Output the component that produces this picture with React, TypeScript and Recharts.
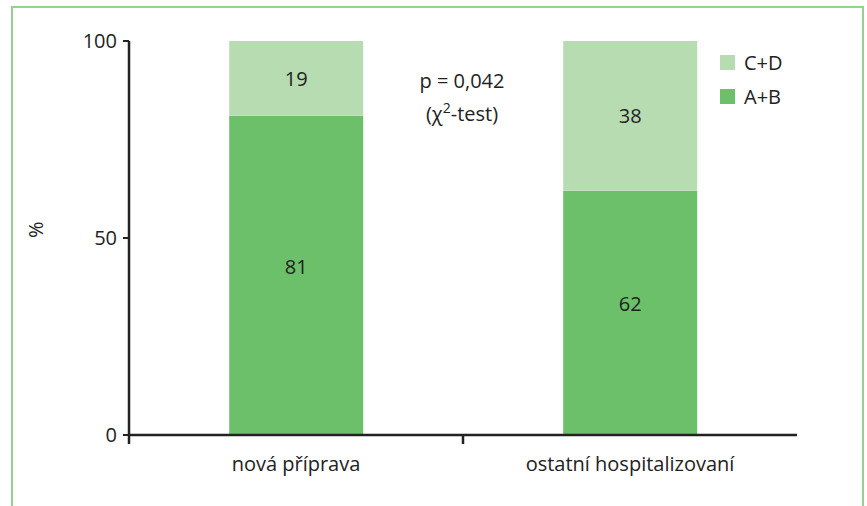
import { Bar, BarChart, LabelList, XAxis, YAxis } from "recharts";

const categories = ["nová příprava", "ostatní hospitalizovaní"];
const abValues = [81, 62];
const cdValues = [19, 38];
const yTicks = [0, 50, 100];

const chartData = categories.map((name, i) => ({
  name,
  ab: abValues[i],
  cd: cdValues[i],
}));

const FONT = "'Open Sans', sans-serif";
const TEXT = "#222";
const DARK = "#6cc06a";
const LIGHT = "#b7dcb1";

const W = 867;
const H = 506;
const MARGIN = { top: 41, right: 70, bottom: 0, left: 0 };
const Y_AXIS_W = 129;
const HALF_BAND = (W - Y_AXIS_W - MARGIN.right) / categories.length / 2;

const legendItems = [
  { label: "C+D", color: LIGHT },
  { label: "A+B", color: DARK },
];

// category label plus a tick mark at the left edge of each category band
function CategoryTick(props: any) {
  const { x, y, payload } = props;
  return (
    <g>
      <line
        x1={x - HALF_BAND}
        x2={x - HALF_BAND}
        y1={y}
        y2={y + 9}
        stroke={TEXT}
        strokeWidth={2.5}
      />
      <text
        x={x}
        y={y + 22}
        dy="0.71em"
        textAnchor="middle"
        fill={TEXT}
        fontSize={20}
        fontFamily={FONT}
      >
        {payload.value}
      </text>
    </g>
  );
}

function LegendBox() {
  return (
    <div
      style={{
        position: "absolute",
        left: 720,
        top: 45,
        fontFamily: FONT,
        fontSize: 20,
        color: TEXT,
      }}
    >
      {legendItems.map((it) => (
        <div
          key={it.label}
          style={{ display: "flex", alignItems: "center", height: 34 }}
        >
          <span
            style={{
              width: 15,
              height: 15,
              background: it.color,
              display: "inline-block",
              marginRight: 9,
            }}
          />
          {it.label}
        </div>
      ))}
    </div>
  );
}

export default function App() {
  return (
    <div
      style={{
        position: "absolute",
        left: 0,
        top: 0,
        width: W,
        height: H,
        overflow: "hidden",
        background: "#fff",
        fontFamily: FONT,
      }}
    >
      <div
        style={{
          position: "absolute",
          left: 11,
          top: 6,
          width: 849,
          height: 540,
          border: "2px solid #93d38f",
        }}
      />
      <BarChart
        width={W}
        height={H}
        data={chartData}
        margin={MARGIN}
        barCategoryGap="30%"
      >
        <XAxis
          dataKey="name"
          height={71}
          axisLine={{ stroke: TEXT, strokeWidth: 2.5 }}
          tickLine={false}
          tickSize={0}
          tickMargin={0}
          tick={<CategoryTick />}
        />
        <YAxis
          width={Y_AXIS_W}
          domain={[0, 100]}
          ticks={yTicks}
          axisLine={{ stroke: TEXT, strokeWidth: 2.5 }}
          tickLine={{ stroke: TEXT, strokeWidth: 2 }}
          tickSize={6}
          tickMargin={6}
          tick={{ fill: TEXT, fontSize: 20, fontFamily: FONT }}
          label={{
            value: "%",
            angle: -90,
            position: "insideLeft",
            offset: 36,
            style: { fill: TEXT, fontSize: 20, fontFamily: FONT },
          }}
        />
        <Bar dataKey="ab" name="A+B" stackId="s" fill={DARK} isAnimationActive={false}>
          <LabelList
            dataKey="ab"
            position="center"
            dy={-9}
            style={{ fill: TEXT, fontSize: 20, fontFamily: FONT }}
          />
        </Bar>
        <Bar dataKey="cd" name="C+D" stackId="s" fill={LIGHT} isAnimationActive={false}>
          <LabelList
            dataKey="cd"
            position="center"
            style={{ fill: TEXT, fontSize: 20, fontFamily: FONT }}
          />
        </Bar>
      </BarChart>
      <LegendBox />
      <div
        style={{
          position: "absolute",
          left: 382,
          top: 64,
          width: 160,
          textAlign: "center",
          fontSize: 20,
          lineHeight: "33px",
          color: TEXT,
        }}
      >
        p = 0,042
        <br />
        (χ<sup style={{ fontSize: 14, lineHeight: 0 }}>2</sup>-test)
      </div>
    </div>
  );
}
